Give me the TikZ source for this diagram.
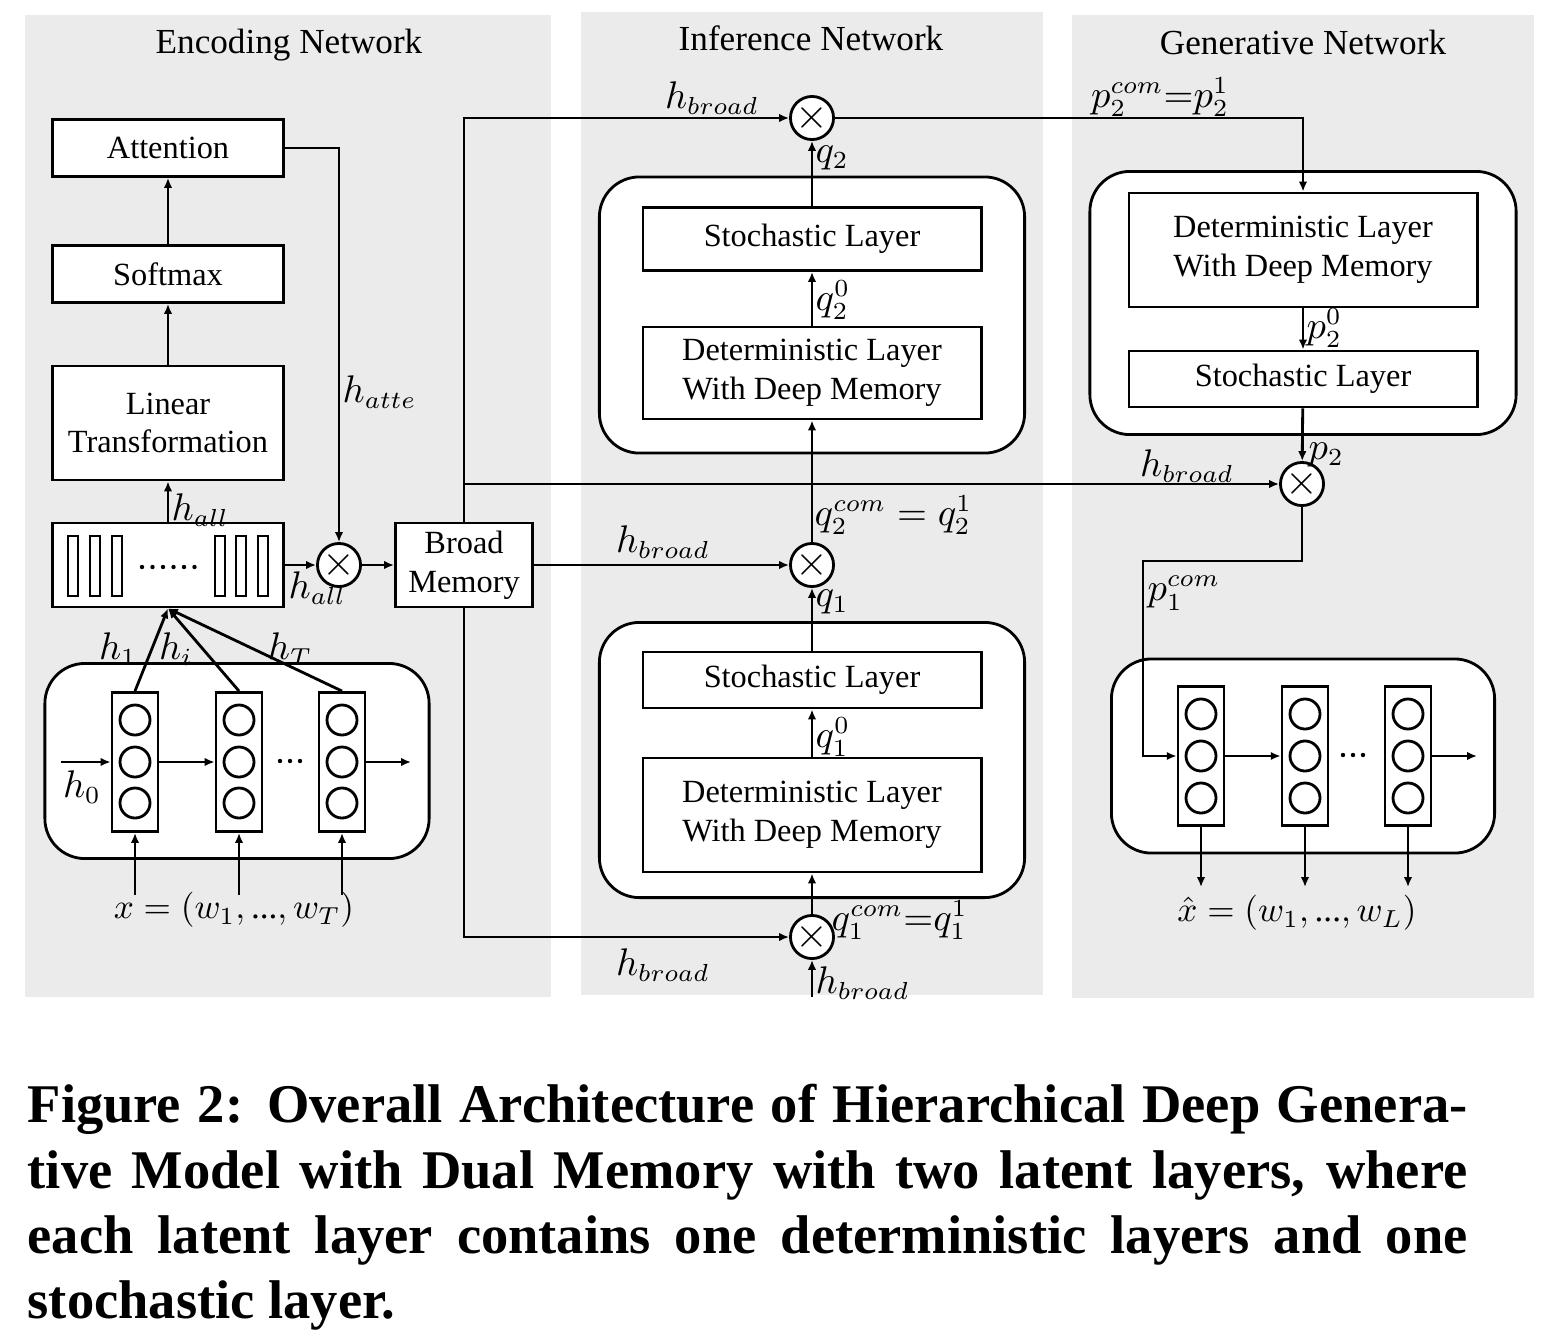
\documentclass[tikz,border=0pt]{standalone}
\usepackage{amsmath}
\usepackage{fontspec}
\setmainfont{Liberation Serif}
\usetikzlibrary{arrows.meta,positioning}

\begin{document}
\begin{tikzpicture}[x=0.01cm,y=-0.01cm]
	\tikzstyle{panel}=[fill=black!8,draw=none]
	\tikzstyle{block}=[rectangle,draw=black,line width=0.8pt,fill=white,minimum width=2.31cm,align=center,inner sep=0pt,font=\fontsize{9.2}{11}\selectfont]
	\tikzstyle{layer}=[block,minimum width=3.38cm]
	\tikzstyle{group}=[rectangle,rounded corners=0.4cm,draw=black,line width=0.8pt,fill=white,inner sep=0pt]
	\tikzstyle{mult}=[circle,draw=black,line width=0.8pt,fill=white,minimum size=0.4cm,inner sep=0pt,font=\fontsize{12}{12}\selectfont]
	\tikzstyle{cell}=[rectangle,draw=black,line width=0.8pt,fill=white,minimum width=0.46cm,minimum height=1.39cm,inner sep=0pt]
	\tikzstyle{unit}=[circle,draw=black,line width=0.8pt,minimum size=0.3cm,inner sep=0pt]
	\tikzstyle{edge}=[draw,line width=0.8pt,-{Latex[length=2.8pt,width=2.4pt]}]
	\tikzstyle{lbl}=[inner sep=0pt,font=\fontsize{10.5}{12}\selectfont]
	\tikzstyle{rlbl}=[lbl,anchor=west]
	\tikzstyle{seq}=[inner sep=0pt,font=\fontsize{10}{12}\selectfont]
	\tikzstyle{title}=[inner sep=0pt,font=\fontsize{10}{12}\selectfont]
	\tikzstyle{caption}=[anchor=base west,inner sep=0pt,font=\fontsize{15.5}{18}\selectfont\bfseries]

	\useasboundingbox (0,0) rectangle (1558,1336);
	\fill[white] (0,0) rectangle (1558,1336);

	% panels
	\fill[panel] (25,15) rectangle (551,997);
	\fill[panel] (581,12) rectangle (1043,995);
	\fill[panel] (1072,15) rectangle (1534,998);
	\node[title] (tenc) at (289,45) {Encoding Network};
	\node[title] (tinf) at (811,38) {Inference Network};
	\node[title] (tgen) at (1303,42) {Generative Network};

	% encoding network
	\node[block,minimum height=0.57cm] (att) at (168,148) {Attention};
	\node[block,minimum height=0.57cm] (soft) at (168,274) {Softmax};
	\node[block,minimum height=1.14cm] (lin) at (168,423) {Linear\\Transformation};
	\node[block,minimum height=0.84cm] (hall) at (168,565) {};
	\foreach \bx in {73,95,117,220,241,263}
		\draw[line width=0.8pt] (\bx-5,536) rectangle (\bx+5,596);
	\foreach \dx in {0,...,5}
		\fill (142+\dx*10.5,567) circle (2.2);
	\node[mult] (m0) at (339,565) {$\times$};
	\node[block,minimum width=1.37cm,minimum height=0.84cm] (bm) at (464,565) {Broad\\Memory};

	\node[group,minimum width=3.84cm,minimum height=1.95cm] (enc) at (237,761) {};
	\foreach \cx/\nm in {135/e1,239/e2,342/e3} {
		\node[cell] (\nm) at (\cx,762) {};
		\foreach \cy in {720,762,803}
			\node[unit] at (\cx,\cy) {};
	}
	\coordinate (h0) at (61,762);
	\coordinate (eout) at (411,762);
	\coordinate (ein) at (0,895);
	\foreach \dx in {-10,0,10}
		\fill (290+\dx,761) circle (2.2);
	\node[seq] (xin) at (234,910) {$x=(w_1,\text{...},w_T)$};
	\path[edge] (h0) -- (e1);
	\path[edge] (e1) -- (e2);
	\path[edge] (e3) -- (eout);
	\foreach \nm in {e1,e2,e3} {
		\path[edge] (\nm.south |- ein) -- (\nm.south);
		\path[edge] (\nm.north) -- (hall.south);
	}
	\node[lbl] at (82,787) {$h_0$};
	\node[lbl] at (118,649) {$h_1$};
	\node[lbl] at (176,649) {$h_i$};
	\node[lbl] at (290,649) {$h_T$};

	\path[edge] (hall) -- (lin);
	\path[edge] (lin) -- (soft);
	\path[edge] (soft) -- (att);
	\path[edge] (att.east) -| (m0);
	\path[edge] (hall) -- (m0);
	\path[edge] (m0) -- (bm);
	\node[rlbl] at (171,510) {$h_{all}$};
	\node[rlbl] at (342,392) {$h_{atte}$};
	\node[rlbl] at (288,588) {$h_{all}$};

	% inference network
	\node[group,minimum width=4.25cm,minimum height=2.76cm] (inf2) at (812,315) {};
	\node[layer,minimum height=0.63cm] (st2) at (812,239) {Stochastic Layer};
	\node[layer,minimum height=0.92cm] (de2) at (812,373) {Deterministic Layer\\With Deep Memory};
	\node[group,minimum width=4.25cm,minimum height=2.75cm] (inf1) at (812,760) {};
	\node[layer,minimum height=0.56cm] (st1) at (812,680) {Stochastic Layer};
	\node[layer,minimum height=1.14cm] (de1) at (812,815) {Deterministic Layer\\With Deep Memory};
	\node[mult] (mtop) at (812,118) {$\times$};
	\node[mult] (mmid) at (812,565) {$\times$};
	\node[mult] (mbot) at (812,937) {$\times$};
	\coordinate (hin) at (812,997);

	\path[edge] (bm.north) |- (mtop);
	\path[edge] (bm) -- (mmid);
	\path[edge] (bm.south) |- (mbot);
	\path[edge] (hin) -- (mbot);
	\path[edge] (mbot) -- (de1);
	\path[edge] (de1) -- (st1);
	\path[edge] (st1) -- (mmid);
	\path[edge] (mmid) -- (de2);
	\path[edge] (de2) -- (st2);
	\path[edge] (st2) -- (mtop);
	\node[lbl] at (712,98) {$h_{broad}$};
	\node[rlbl] at (815,158) {$q_2$};
	\node[rlbl] at (815,300) {$q_2^0$};
	\node[rlbl] at (814,515) {$q_2^{com}=q_2^1$};
	\node[lbl] at (663,542) {$h_{broad}$};
	\node[rlbl] at (815,602) {$q_1$};
	\node[rlbl] at (815,737) {$q_1^0$};
	\node[rlbl] at (831,920) {$q_1^{com}{=}q_1^1$};
	\node[lbl] at (663,965) {$h_{broad}$};
	\node[rlbl] at (815,983) {$h_{broad}$};

	% generative network
	\node[group,minimum width=4.26cm,minimum height=2.63cm] (gen2) at (1303,303) {};
	\node[layer,minimum width=3.48cm,minimum height=1.14cm] (de3) at (1303,250) {Deterministic Layer\\With Deep Memory};
	\node[layer,minimum width=3.48cm,minimum height=0.56cm] (st3) at (1303,379) {Stochastic Layer};
	\node[mult] (mp2) at (1302,484) {$\times$};
	\coordinate (turn) at (1143,561);

	\node[group,minimum width=3.83cm,minimum height=1.94cm] (gen1) at (1303,756) {};
	\foreach \cx/\nm in {1201/g1,1305/g2,1408/g3} {
		\node[cell] (\nm) at (\cx,756) {};
		\foreach \cy in {714,756,798}
			\node[unit] at (\cx,\cy) {};
	}
	\coordinate (gout) at (0,887);
	\coordinate (gend) at (1477,756);
	\foreach \dx in {-10,0,10}
		\fill (1353+\dx,755) circle (2.2);
	\node[seq] (xhat) at (1297,913) {$\hat{x}=(w_1,\text{...},w_L)$};

	\path[edge] (mtop) -| (de3.north);
	\path[edge] (de3) -- (st3);
	\path[edge] (st3) -- (mp2);
	\path[edge] (bm.north |- mp2) -- (mp2);
	\path[edge] (mp2.south) |- (turn) |- (g1.west);
	\path[edge] (g1) -- (g2);
	\path[edge] (g3) -- (gend);
	\foreach \nm in {g1,g2,g3}
		\path[edge] (\nm.south) -- (\nm.south |- gout);
	\node[lbl] at (1160,97) {$p_2^{com}{=}p_2^1$};
	\node[rlbl] at (1306,328) {$p_2^0$};
	\node[lbl] at (1187,466) {$h_{broad}$};
	\node[rlbl] at (1308,455) {$p_2$};
	\node[rlbl] at (1147,593) {$p_1^{com}$};

	% caption
	\node[caption] (cap1) at (27,1122) {\hbox to 14.39cm{Figure 2: Overall Architecture of Hierarchical Deep Genera-}};
	\node[caption] (cap2) at (27,1188) {\hbox to 14.39cm{tive Model with Dual Memory with two latent layers, where}};
	\node[caption] (cap3) at (27,1253) {\hbox to 14.39cm{each latent layer contains one deterministic layers and one}};
	\node[caption] (cap4) at (27,1318) {stochastic layer.};
\end{tikzpicture}
\end{document}
